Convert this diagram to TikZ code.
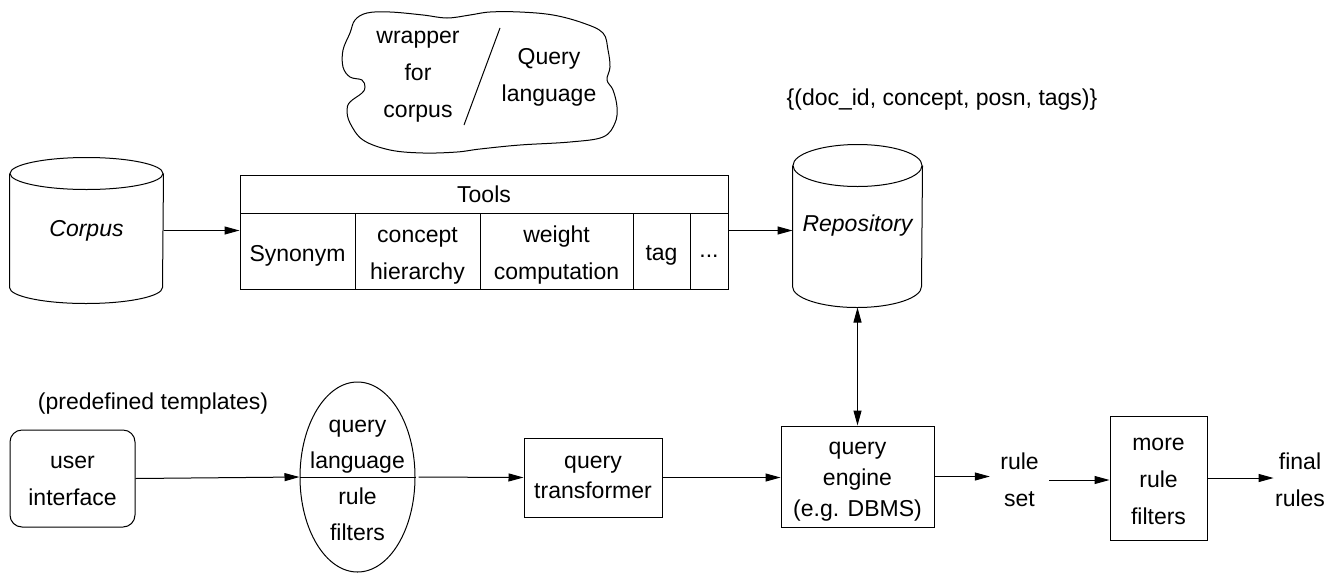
\documentclass[tikz,border=0pt]{standalone}
\usepackage{fontspec}
\setmainfont{Liberation Sans}
\usetikzlibrary{shapes.geometric,arrows.meta}

\begin{document}
\begin{tikzpicture}[x=1pt,y=-1pt,line width=1pt,
        font=\fontsize{23}{37}\selectfont,
        >={Triangle[length=15pt,width=8pt]},
        box/.style={draw, inner sep=0pt, align=center},
        txt/.style={inner sep=0pt, align=center},
        drum/.style={inner sep=0pt, font=\fontsize{23}{37}\selectfont\itshape}]
    \useasboundingbox (0,0) rectangle (1337,573);

    % the cloud at the top
    \draw plot[smooth cycle, tension=.6] coordinates{ (350,33) (355,20) (367,13) (390,12) (423,15) (447,18)
        (470,15) (490,12) (520,12) (553,15) (583,23) (603,33) (608,50) (610,67) (607,80) (613,90)
        (617,107) (615,123) (603,137) (570,142) (520,145) (480,149) (457,152) (423,153) (390,150)
        (363,140) (350,123) (347,110) (350,102) (362,93) (365,87) (362,80) (350,77) (343,67) (343,50)};
    \draw (500,28) to (464,125);
    \node [txt] (wrap) at (418,77) {wrapper\\for\\corpus};
    \node [txt] (qlang) at (549,77) {Query\\language};

    % the two cylinders
    \node [drum, minimum width=153, minimum height=145] (corpus) at (86.5,230.5) {Corpus};
    \draw ([yshift=-16pt]corpus.north) ellipse [x radius=76.5pt, y radius=16pt];
    \draw ([yshift=-16pt]corpus.north west) -- ([yshift=16pt]corpus.south west)
        arc [start angle=180, end angle=360, x radius=76.5pt, y radius=16pt] -- ([yshift=-16pt]corpus.north east);
    \node [drum, minimum width=129, minimum height=162] (repo) at (857.5,226) {Repository};
    \draw ([yshift=-21pt]repo.north) ellipse [x radius=64.5pt, y radius=21pt];
    \draw ([yshift=-21pt]repo.north west) -- ([yshift=21pt]repo.south west)
        arc [start angle=180, end angle=360, x radius=64.5pt, y radius=21pt] -- ([yshift=-21pt]repo.north east);
    \node [txt] (tuple) at (942,100) {\{(doc\_id, concept, posn, tags)\}};

    \node [box, minimum width=488, minimum height=38] (tools) at (484,194) {Tools};
    \node [box, minimum width=115, minimum height=76, text height=25.5pt] (syn) at (297.5,251) {Synonym};
    \node [box, minimum width=125, minimum height=76, text height=61pt] (hier) at (417.5,251) {concept\\hierarchy};
    \node [box, minimum width=153, minimum height=76, text height=62pt] (weight) at (556.5,251) {weight\\computation};
    \node [box, minimum width=57, minimum height=76, text height=24pt] (tag) at (661.5,251) {tag};
    \node [box, minimum width=38, minimum height=76, text height=12pt] (dots) at (709,251) {...};

    \draw [->] (corpus.east) to (corpus.east -| syn.west);
    \draw [->] (dots.east |- corpus.east) to (corpus.east -| repo.west);

    \node [txt] (templ) at (153,404) {(predefined templates)};
    \node [box, rounded corners=12pt, minimum width=125, minimum height=97, text height=55pt] (ui) at (72.5,478.5) {user\\interface};
    \node [draw, ellipse, minimum width=115, minimum height=190, inner sep=0pt] (ql) at (357.5,477) {};
    \node [txt, font=\fontsize{23}{36}\selectfont] (qltext) at (357.5,480) {query\\language\\rule\\filters};
    \draw (ql.west) to (ql.east);
    \node [box, minimum width=138, minimum height=79, font=\fontsize{23}{30}\selectfont] (trans) at (593,477.5) {query\\transformer};
    \node [box, minimum width=153, minimum height=101, text height=84pt, font=\fontsize{23}{31}\selectfont] (engine) at (857.5,476.5) {query\\engine\\(e.g. DBMS)};
    \node [txt, inner xsep=10pt] (ruleset) at (1019.5,480) {rule\\set};
    \node [box, minimum width=97, minimum height=124, text height=93pt] (filt) at (1158.5,478) {more\\rule\\filters};
    \node [txt, inner xsep=1pt] (final) at (1300,480) {final\\rules};

    \draw [<->] (repo.south) to (engine.north);
    \draw [->] (ui.east) to (ql.west);
    \draw [->, shorten <=3pt] (ql.east) to (trans.west);
    \draw [->] (trans.east) to (trans.east -| engine.west);
    \draw [->] (engine.east) to (engine.east -| ruleset.west);
    \draw [->] (ruleset.east) to (ruleset.east -| filt.west);
    \draw [->] (filt.east) to (filt.east -| final.west);
\end{tikzpicture}
\end{document}
